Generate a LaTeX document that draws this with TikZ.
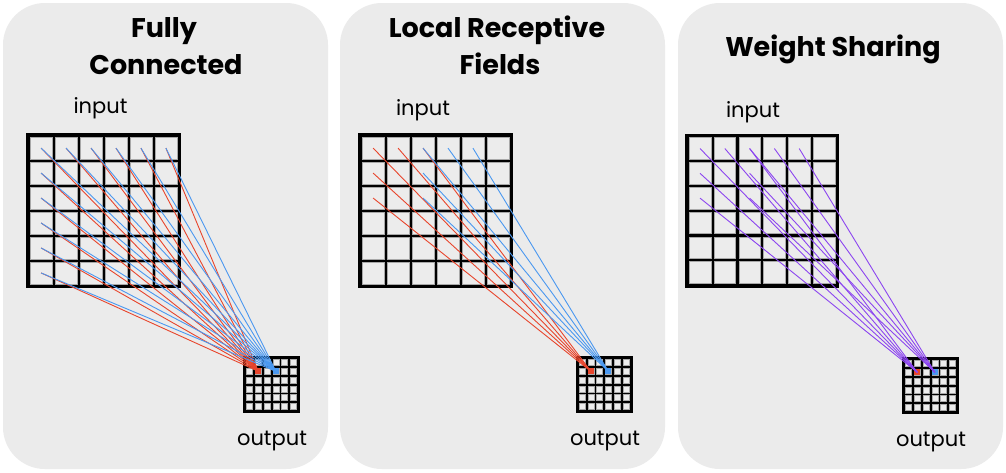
\documentclass[tikz,border=0pt]{standalone}
\usepackage{fontspec}
\setmainfont{Poppins}
\definecolor{panelc}{HTML}{EBEBEB}
\definecolor{redc}{HTML}{E8452C}
\definecolor{bluec}{HTML}{4A98F0}
\definecolor{purpc}{HTML}{8C45F0}
\definecolor{cellc}{HTML}{ECECEC}
\definecolor{bevc}{HTML}{A8A8A8}
\newcommand{\cnngrid}[6]{%
  \fill[black] (#2,#3) rectangle ++(#4,#4);
  \pgfmathsetmacro\grPitch{(#4-2*#5+#6)/6}%
  \pgfmathsetmacro\grCs{\grPitch-#6}%
  \foreach \i in {0,...,5}{\foreach \j in {0,...,5}{%
    \node[cell, minimum size=\grCs pt] (#1-\i-\j) at ({#2+#5+\i*\grPitch+\grCs/2},{#3+#5+\j*\grPitch+\grCs/2}) {};
  }}%
}
\begin{document}
\begin{tikzpicture}[x=1pt,y=-1pt,
  panel/.style={fill=panelc, rounded corners=42pt},
  cell/.style={rectangle, inner sep=0pt, outer sep=0pt, fill=cellc, draw=bevc, line width=0.5pt},
  title/.style={font=\fontsize{27}{32}\selectfont\bfseries, anchor=base, inner sep=0pt},
  lab/.style={font=\fontsize{21}{25}\selectfont, anchor=base, inner sep=0pt},
  redl/.style={draw=redc, line width=0.9pt},
  bluel/.style={draw=bluec, line width=0.9pt},
  purpl/.style={draw=purpc, line width=0.9pt}]
\useasboundingbox (0,0) rectangle (1006,472);
\fill[white] (0,0) rectangle (1006,472);
% panels
\fill[panel] (3,3) rectangle (328,469);
\fill[panel] (340,3) rectangle (665,469);
\fill[panel] (678,3) rectangle (1003,469);
% titles
\node[title] (t1a) at (164,37) {Fully};
\node[title] (t1b) at (166,74) {Connected};
\node[title] (t2a) at (497,37) {Local Receptive};
\node[title] (t2b) at (500,74) {Fields};
\node[title] (t3) at (833,56) {Weight Sharing};
% labels
\node[lab] (in1) at (100.5,113) {input};
\node[lab] (in2) at (423,115) {input};
\node[lab] (in3) at (753,117) {input};
\node[lab] (out1) at (272,445) {output};
\node[lab] (out2) at (605,445) {output};
\node[lab] (out3) at (931,446) {output};
% grids
\cnngrid{a}{26}{133}{155}{4.2}{3.2}
\cnngrid{b}{358}{133}{155}{4.2}{3.2}
\cnngrid{c}{685}{133.5}{154}{4.2}{3.2}
\cnngrid{ao}{243}{356}{57}{3.5}{2.6}
\cnngrid{bo}{575.5}{356}{57}{3.5}{2.6}
\cnngrid{co}{902}{357}{57}{3.5}{2.6}
% highlighted output cells
\foreach \g in {ao,bo,co}{
  \fill[redc] (\g-1-1.south west) rectangle (\g-1-1.north east);
  \fill[bluec] (\g-3-1.south west) rectangle (\g-3-1.north east);
}
% fully connected
\foreach \s in {0-0,1-0,2-0,3-0,4-0,5-0,0-1,0-2,0-3,0-4,0-5}{
  \draw[redl] (a-\s.center) -- (ao-1-1.center);
}
\foreach \s in {0-0,1-0,2-0,3-0,4-0,5-0,0-1,0-2,0-3,0-4,0-5}{
  \draw[bluel] (a-\s.center) -- (ao-3-1.center);
}
% local receptive fields
\foreach \s in {0-0,1-0,2-0,0-1,0-2}{
  \draw[redl] (b-\s.center) -- (bo-1-1.center);
}
\foreach \s in {2-0,3-0,4-0,2-1,2-2}{
  \draw[bluel] (b-\s.center) -- (bo-3-1.center);
}
% weight sharing
\foreach \s in {0-0,1-0,2-0,0-1,0-2}{
  \draw[purpl] (c-\s.center) -- (co-1-1.center);
}
\foreach \s in {2-0,3-0,4-0,2-1,2-2}{
  \draw[purpl] (c-\s.center) -- (co-3-1.center);
}
\end{tikzpicture}
\end{document}
